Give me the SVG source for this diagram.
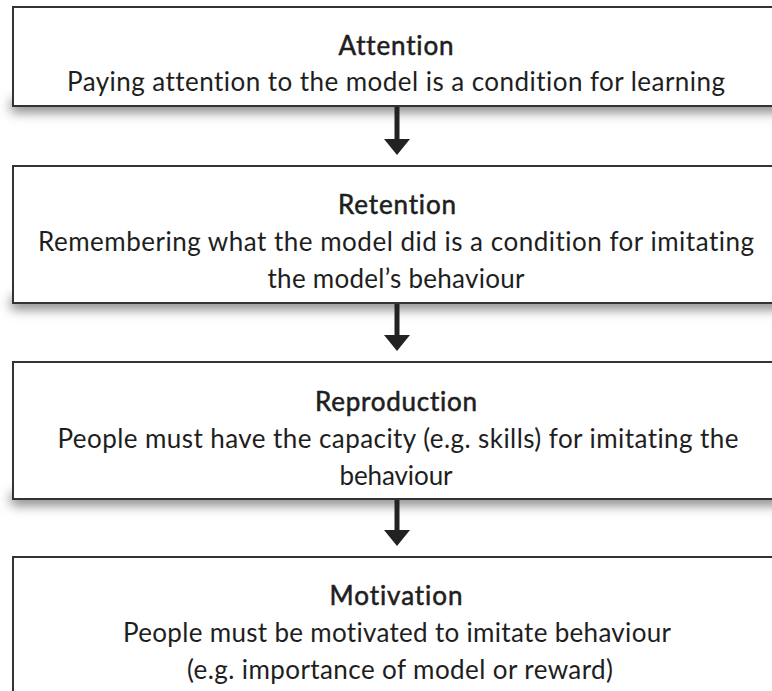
<svg xmlns="http://www.w3.org/2000/svg" width="772" height="691" viewBox="0 0 772 691">
  <defs>
    <filter id="blur" x="-5%" y="-100%" width="110%" height="300%">
      <feGaussianBlur stdDeviation="6"/>
    </filter>
    <marker id="head" viewBox="0 0 16 26" refX="0" refY="13" markerWidth="16" markerHeight="26" markerUnits="userSpaceOnUse" orient="auto">
      <path d="M0,0 L16,13 L0,26 Z" fill="#222"/>
    </marker>
    <style>
      .box { fill: #ffffff; stroke: #333333; stroke-width: 2; }
      .shd { fill: #7d7d7d; }
      text { font-variant-ligatures: none; font-feature-settings: "liga" 0, "clig" 0; }
      .title { font-family: Lato, "Liberation Sans", sans-serif; font-size: 26px; font-weight: 400; fill: #1e1e1e; stroke: #1e1e1e; stroke-width: 0.55; text-anchor: middle; }
      .body { font-family: Lato, "Liberation Sans", sans-serif; font-size: 26px; font-weight: 400; fill: #1e1e1e; text-anchor: middle; }
      .conn { stroke: #222; stroke-width: 5; fill: none; marker-end: url(#head); }
    </style>
  </defs>
  <rect x="0" y="0" width="772" height="691" fill="#ffffff"/>

  <g id="shadows" filter="url(#blur)">
    <rect class="shd" x="11" y="100" width="775" height="12"/>
    <rect class="shd" x="11" y="297" width="775" height="12"/>
    <rect class="shd" x="11" y="493" width="775" height="12"/>
  </g>

  <g id="attention">
    <rect class="box" x="13" y="7" width="766" height="99"/>
    <text class="title" x="396" y="55" textLength="115">Attention</text>
    <text class="body" x="396" y="91" textLength="658">Paying attention to the model is a condition for learning</text>
  </g>

  <g id="retention">
    <rect class="box" x="13" y="166" width="766" height="137"/>
    <text class="title" x="397" y="214" textLength="118">Retention</text>
    <text class="body" x="396" y="251" textLength="716">Remembering what the model did is a condition for imitating</text>
    <text class="body" x="396" y="288" textLength="257">the model’s behaviour</text>
  </g>

  <g id="reproduction">
    <rect class="box" x="13" y="362" width="766" height="137"/>
    <text class="title" x="396" y="411" textLength="162">Reproduction</text>
    <text class="body" x="398" y="448" textLength="681">People must have the capacity (e.g. skills) for imitating the</text>
    <text class="body" x="396" y="485" textLength="113">behaviour</text>
  </g>

  <g id="motivation">
    <rect class="box" x="13" y="557" width="766" height="150"/>
    <text class="title" x="396" y="605" textLength="133">Motivation</text>
    <text class="body" x="397" y="642" textLength="548">People must be motivated to imitate behaviour</text>
    <text class="body" x="400" y="679" textLength="426">(e.g. importance of model or reward)</text>
  </g>

  <g id="connectors">
    <line class="conn" x1="397" y1="107" x2="397" y2="139"/>
    <line class="conn" x1="397" y1="304" x2="397" y2="335"/>
    <line class="conn" x1="397" y1="500" x2="397" y2="530"/>
  </g>
</svg>
